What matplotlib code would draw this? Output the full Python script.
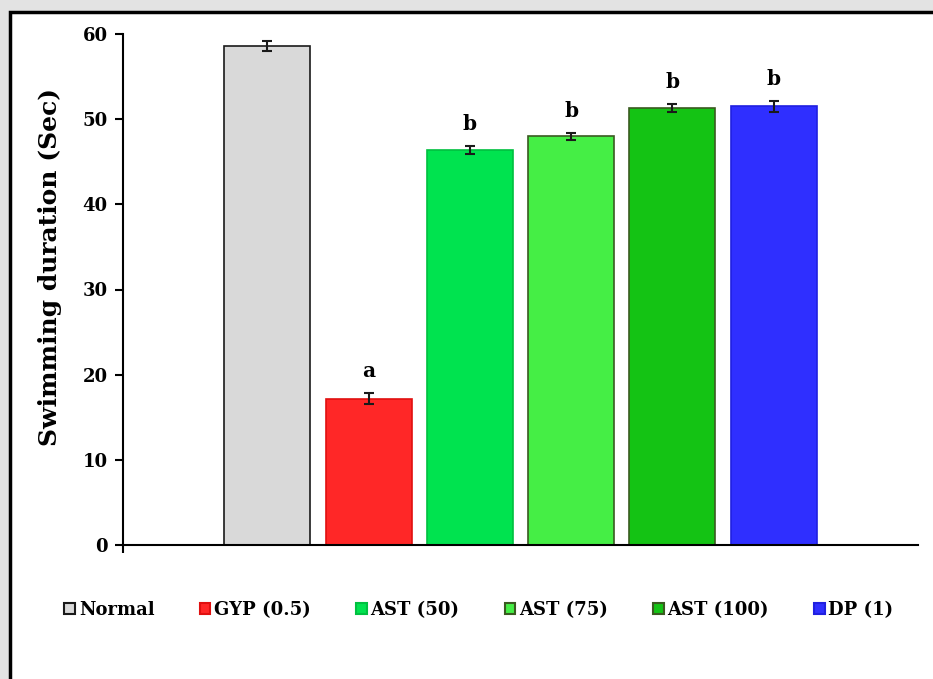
import matplotlib.pyplot as plt
from matplotlib.patches import Rectangle, Patch

groups = ["Normal", "GYP (0.5)", "AST (50)", "AST (75)", "AST (100)", "DP (1)"]
means = [58.6, 17.2, 46.4, 48.0, 51.3, 51.5]
errors = [0.6, 0.65, 0.5, 0.4, 0.5, 0.65]
letters = ["", "a", "b", "b", "b", "b"]
fills = ["#d9d9d9", "#ff2727", "#00e34f", "#45ee45", "#14c314", "#2f2fff"]
edges = ["#1a1a1a", "#e01010", "#00c040", "#3a5a20", "#3a5a20", "#2020e0"]

plt.rcParams["font.family"] = "DejaVu Serif"
plt.rcParams["font.weight"] = "bold"

fig = plt.figure(figsize=(9.33, 6.79), dpi=100)
fig.patch.set_facecolor("#e3e3e3")

# white panel with black frame on left/top
panel = Rectangle((10 / 933, -0.05), 1.1, (679 - 12) / 679 + 0.05,
                  transform=fig.transFigure, facecolor="white",
                  edgecolor="black", linewidth=2.5, zorder=-10)
fig.patches.append(panel)

ax = fig.add_axes([123 / 933, 134 / 679, 795 / 933, 511 / 679])
ax.set_facecolor("none")

x = list(range(len(groups)))
ax.bar(x, means, width=0.85, color=fills, edgecolor=edges, linewidth=1.2,
       yerr=errors, capsize=3.5, error_kw=dict(ecolor="#1a1a1a", elinewidth=1.5, capthick=1.5))

for xi, m, e, lab in zip(x, means, errors, letters):
    if lab:
        ax.text(xi, m + e + 1.4, lab, ha="center", va="bottom",
                fontsize=14.5, fontweight="bold")

ax.set_xlim(-1.426, 6.426)
ax.set_ylim(0, 60)
ax.set_yticks(range(0, 61, 10))
ax.tick_params(axis="y", direction="out", length=6, width=1.5, labelsize=13, pad=5)
ax.set_xticks([-1.426])
ax.set_xticklabels([""])
ax.tick_params(axis="x", direction="out", length=6, width=1.5)
for s in ["top", "right"]:
    ax.spines[s].set_visible(False)
ax.spines["left"].set_linewidth(1.5)
ax.spines["bottom"].set_linewidth(1.5)
ax.set_ylabel("Swimming duration (Sec)", fontsize=18, fontweight="bold")
ax.yaxis.set_label_coords(-0.077, 0.544)

handles = [Patch(facecolor=f, edgecolor=e, linewidth=1.5) for f, e in zip(fills, edges)]
fig.legend(handles, groups, loc="center", bbox_to_anchor=(479 / 933, 1 - 610 / 679),
           ncol=6, frameon=False, handlelength=0.6, handleheight=0.6,
           handletextpad=0.2, columnspacing=2.5,
           prop=dict(family="DejaVu Serif", weight="bold", size=13))

fig.savefig("out.png", dpi=100, facecolor=fig.get_facecolor())
